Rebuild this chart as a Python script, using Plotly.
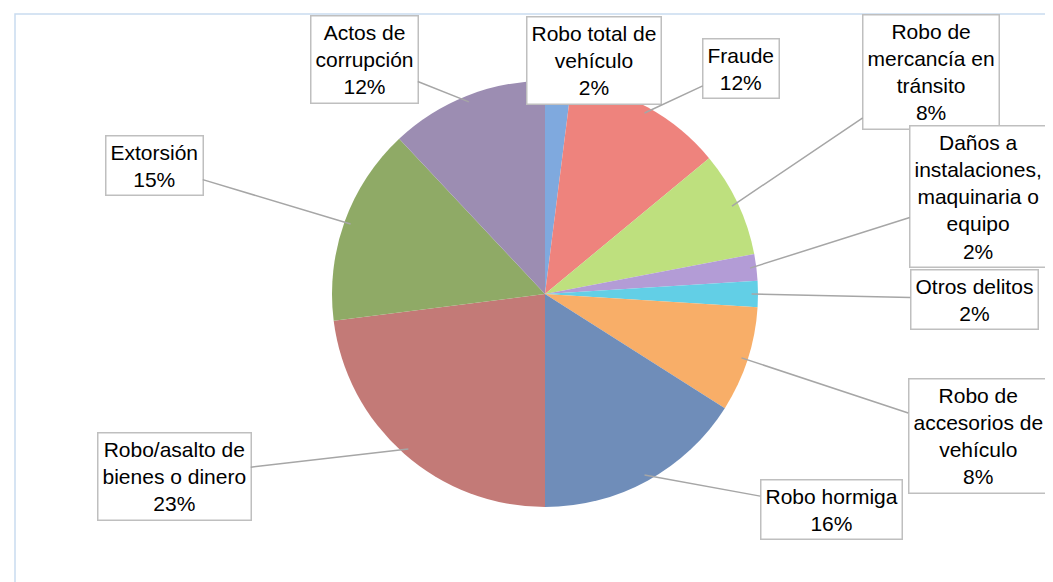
import math
import plotly.graph_objects as go

# ---- data ----
categories = [
    "Robo total de<br>vehículo",
    "Fraude",
    "Robo de<br>mercancía en<br>tránsito",
    "Daños a<br>instalaciones,<br>maquinaria o<br>equipo",
    "Otros delitos",
    "Robo de<br>accesorios de<br>vehículo",
    "Robo hormiga",
    "Robo/asalto de<br>bienes o dinero",
    "Extorsión",
    "Actos de<br>corrupción",
]
values = [2, 12, 8, 2, 2, 8, 16, 23, 15, 12]

# ---- styles / layout positions (pixels) ----
colors = ["#7FA9DE", "#EE837D", "#BEE07E", "#B39CD6", "#62CFE6",
          "#F8AE68", "#6F8DB9", "#C37A77", "#8FAA66", "#9C8DB2"]
label_centers = [(586, 52), (733, 60), (923, 64), (970, 188), (966, 291),
                 (970, 428), (823, 501), (166, 468), (146, 157), (356, 52)]

W, H = 1053, 582
cx, cy, R = 537, 286, 213

fig = go.Figure()
fig.add_trace(go.Pie(
    labels=[c.replace("<br>", " ") for c in categories],
    values=values,
    sort=False,
    direction="clockwise",
    rotation=0,
    textinfo="none",
    hoverinfo="label+percent",
    marker=dict(colors=colors, line=dict(width=0)),
    domain=dict(x=[(cx - R) / W, (cx + R) / W], y=[1 - (cy + R) / H, 1 - (cy - R) / H]),
    showlegend=False,
))

total = sum(values)
cum = 0
annotations = []
for cat, v, (bx, by) in zip(categories, values, label_centers):
    mid = (cum + v / 2) / total * 2 * math.pi
    cum += v
    hx = cx + 0.97 * R * math.sin(mid)
    hy = cy - 0.97 * R * math.cos(mid)
    pct = round(v / total * 100)
    annotations.append(dict(
        x=hx / W, y=1 - hy / H, xref="paper", yref="paper",
        ax=bx - hx, ay=by - hy, axref="pixel", ayref="pixel",
        text=f"{cat}<br>{pct}%",
        showarrow=True, arrowhead=0, arrowwidth=1.5, arrowcolor="#A6A6A6",
        standoff=0, startstandoff=0,
        bgcolor="white", bordercolor="#BFBFBF", borderwidth=1.5, borderpad=4,
        font=dict(family="Liberation Sans, Arial, sans-serif", size=21, color="black"),
        align="center",
    ))

fig.update_layout(
    width=W, height=H,
    margin=dict(l=0, r=0, t=0, b=0),
    paper_bgcolor="white",
    annotations=annotations,
    shapes=[dict(type="rect", xref="paper", yref="paper",
                 x0=7 / W, x1=1.02, y0=-0.02, y1=1 - 6 / H,
                 line=dict(color="#C9DBF0", width=1.5), fillcolor="rgba(0,0,0,0)")],
)

fig.write_html("out.html")
